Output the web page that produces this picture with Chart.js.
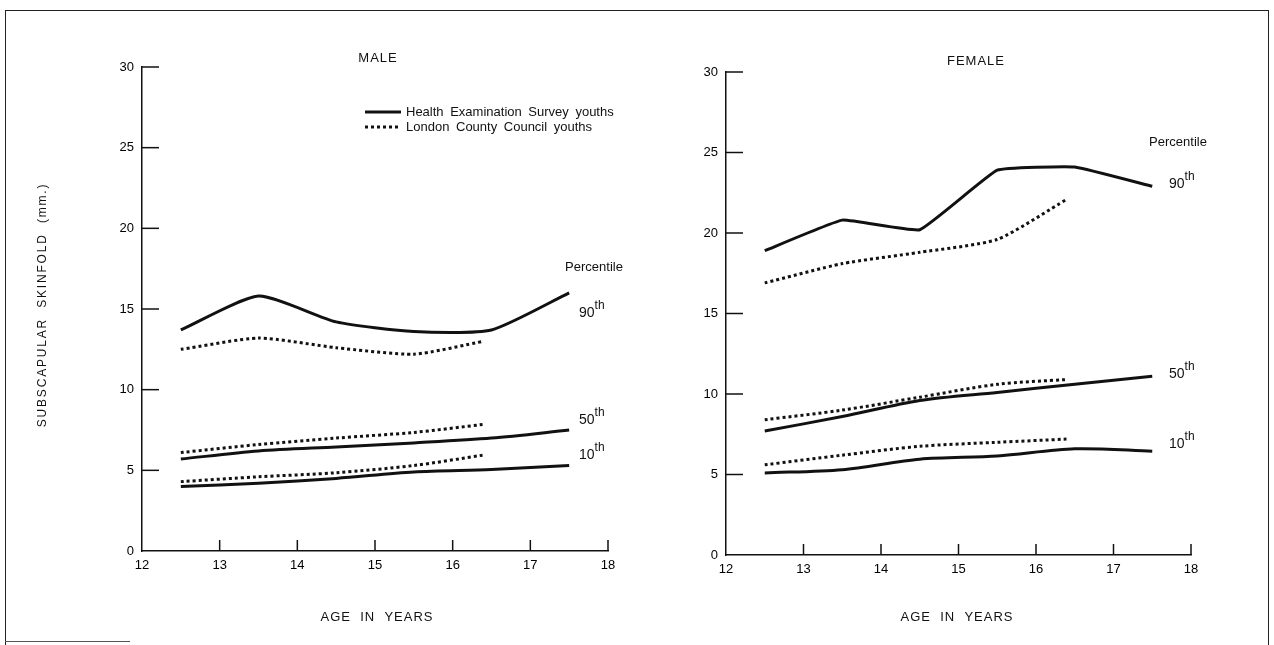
<!DOCTYPE html>
<html>
<head>
<meta charset="utf-8">
<script src="https://cdn.jsdelivr.net/npm/chart.js@4/dist/chart.umd.min.js"></script>
<style>
  html, body { margin: 0; padding: 0; background: #fff; }
  #wrap { position: relative; width: 1274px; height: 645px; }
  #wrap canvas { position: absolute; left: 0; top: 0; }
  #frame { position: absolute; left: 5px; top: 10px; width: 1262px; height: 640px;
           border-left: 1px solid #222; border-top: 1px solid #222; border-right: 1px solid #222; }
  #foot { position: absolute; left: 5px; top: 641px; width: 125px; border-top: 1px solid #555; }
</style>
</head>
<body>
<div id="wrap">
  <div id="frame"></div>
  <div id="foot"></div>
  <canvas id="male" width="1274" height="645"></canvas>
  <canvas id="female" width="1274" height="645"></canvas>
</div>
<script>
// ages (years) at which the percentiles were plotted
const ages = [12.5, 13.5, 14.5, 15.5, 16.5, 17.5];
const agesLondon = [12.5, 13.5, 14.5, 15.5, 16.4];

const xTicks = [12, 13, 14, 15, 16, 17, 18];
const yTicks = [0, 5, 10, 15, 20, 25, 30];

const seriesNames = ["Health Examination Survey youths", "London County Council youths"];
const percentiles = ["90", "50", "10"];

// male, subscapular skinfold (mm)
const maleHes90 = [13.7, 15.8, 14.2, 13.6, 13.7, 16.0];
const maleHes50 = [5.7, 6.2, 6.45, 6.7, 7.0, 7.5];
const maleHes10 = [4.0, 4.2, 4.5, 4.9, 5.05, 5.3];
const maleLcc90 = [12.5, 13.2, 12.6, 12.2, 13.0];
const maleLcc50 = [6.1, 6.6, 7.0, 7.35, 7.85];
const maleLcc10 = [4.3, 4.6, 4.85, 5.3, 5.95];

// female
const femaleHes90 = [18.9, 20.8, 20.2, 23.9, 24.1, 22.9];
const femaleHes50 = [7.7, 8.6, 9.6, 10.1, 10.6, 11.1];
const femaleHes10 = [5.1, 5.3, 5.95, 6.15, 6.6, 6.45];
const femaleLcc90 = [16.9, 18.1, 18.8, 19.6, 22.1];
const femaleLcc50 = [8.4, 9.0, 9.8, 10.6, 10.9];
const femaleLcc10 = [5.6, 6.2, 6.75, 7.0, 7.2];

const INK = "#111";
const FONT = "'Liberation Sans', Arial, sans-serif";

function pts(xs, ys) {
  return ys.map((y, i) => ({ x: xs[i], y: y }));
}

function solid(vals, tension) {
  return { label: seriesNames[0], data: pts(ages, vals), borderColor: INK, borderWidth: 3,
           tension: tension, pointRadius: 0, fill: false };
}
function dotted(vals, tension) {
  return { label: seriesNames[1], data: pts(agesLondon, vals), borderColor: INK, borderWidth: 3,
           borderDash: [3, 3], tension: tension, pointRadius: 0, fill: false };
}

function supLabel(ctx, x, y, base) {
  ctx.font = "14px " + FONT;
  ctx.textAlign = "left";
  ctx.textBaseline = "middle";
  ctx.fillText(base, x, y);
  const w = ctx.measureText(base).width;
  ctx.font = "12px " + FONT;
  ctx.fillText("th", x + w, y - 7);
}

// inward tick marks, titles and the text labels
const decor = {
  id: "decor",
  afterDraw(chart, args, opts) {
    const ctx = chart.ctx;
    const xs = chart.scales.x, ys = chart.scales.y;
    ctx.save();
    ctx.strokeStyle = INK;
    ctx.fillStyle = INK;
    ctx.lineWidth = 1.5;
    xs.ticks.forEach((t, i) => {
      if (i === 0) return;
      const px = xs.getPixelForValue(t.value);
      ctx.beginPath();
      ctx.moveTo(px, ys.bottom);
      ctx.lineTo(px, ys.bottom - 11);
      ctx.stroke();
    });
    ys.ticks.forEach((t, i) => {
      if (i === 0) return;
      const py = ys.getPixelForValue(t.value);
      ctx.beginPath();
      ctx.moveTo(xs.left, py);
      ctx.lineTo(xs.left + 17, py);
      ctx.stroke();
    });

    ctx.textAlign = "center";
    ctx.textBaseline = "middle";
    ctx.letterSpacing = "1px";
    ctx.font = "13px " + FONT;
    ctx.fillText(opts.title, opts.titleX, opts.titleY);
    ctx.fillText("AGE  IN  YEARS", opts.ageX, 617);
    ctx.letterSpacing = "0px";

    ctx.font = "13px " + FONT;
    ctx.fillText("Percentile", opts.pctX, opts.pctY);
    percentiles.forEach((p, i) => supLabel(ctx, opts.labX, opts.labY[i], p));

    if (opts.legend) {
      chart.data.datasets.slice(0, 2).forEach((ds, i) => {
        const y = opts.legend.y + i * 15;
        ctx.lineWidth = 3;
        ctx.setLineDash(ds.borderDash || []);
        ctx.beginPath();
        ctx.moveTo(opts.legend.x, y);
        ctx.lineTo(opts.legend.x + 36, y);
        ctx.stroke();
        ctx.setLineDash([]);
        ctx.font = "13px " + FONT;
        ctx.wordSpacing = "3px";
        ctx.textAlign = "left";
        ctx.fillText(ds.label, opts.legend.x + 41, y);
        ctx.wordSpacing = "0px";
      });
    }
    if (opts.yTitle) {
      ctx.translate(43, 305);
      ctx.rotate(-Math.PI / 2);
      ctx.textAlign = "center";
      ctx.font = "12px " + FONT;
      ctx.letterSpacing = "1.8px";
      ctx.fillText("SUBSCAPULAR  SKINFOLD  (mm.)", 0, 0);
    }
    ctx.restore();
  }
};

function makeChart(id, sets, padding, opts) {
  return new Chart(document.getElementById(id), {
    type: "line",
    data: { datasets: sets },
    options: {
      responsive: false,
      animation: false,
      devicePixelRatio: 1,
      layout: { padding: padding },
      plugins: { legend: { display: false }, tooltip: { enabled: false }, decor: opts },
      scales: {
        x: {
          type: "linear", min: 12, max: 18,
          afterBuildTicks: s => { s.ticks = xTicks.map(v => ({ value: v })); },
          afterFit: s => { s.height = 30; },
          grid: { display: true, drawOnChartArea: false, drawTicks: false },
          border: { display: true, color: INK, width: 1.5 },
          ticks: { color: "#000", padding: 7, font: { family: FONT, size: 13 } }
        },
        y: {
          type: "linear", min: 0, max: 30,
          afterBuildTicks: s => { s.ticks = yTicks.map(v => ({ value: v })); },
          afterFit: s => { s.width = 40; },
          grid: { display: true, drawOnChartArea: false, drawTicks: false },
          border: { display: true, color: INK, width: 1.5 },
          ticks: { color: "#000", padding: 8, font: { family: FONT, size: 13 } }
        }
      }
    },
    plugins: [decor]
  });
}

makeChart("male", [
  solid(maleHes90, 0.2), dotted(maleLcc90, 0.2),
  solid(maleHes50, 0.3), dotted(maleLcc50, 0.3),
  solid(maleHes10, 0.3), dotted(maleLcc10, 0.3)
], { left: 102, right: 666, top: 67, bottom: 64 }, {
  title: "MALE", titleX: 378, titleY: 58, ageX: 377,
  pctX: 594, pctY: 267, labX: 579, labY: [313, 420, 455],
  legend: { x: 365, y: 112 }, yTitle: true
});

makeChart("female", [
  solid(femaleHes90, 0.1), dotted(femaleLcc90, 0.2),
  solid(femaleHes50, 0.3), dotted(femaleLcc50, 0.3),
  solid(femaleHes10, 0.3), dotted(femaleLcc10, 0.3)
], { left: 686, right: 83, top: 72, bottom: 60 }, {
  title: "FEMALE", titleX: 976, titleY: 61, ageX: 957,
  pctX: 1178, pctY: 142, labX: 1169, labY: [184, 374, 444],
  legend: null, yTitle: false
});
</script>
</body>
</html>
